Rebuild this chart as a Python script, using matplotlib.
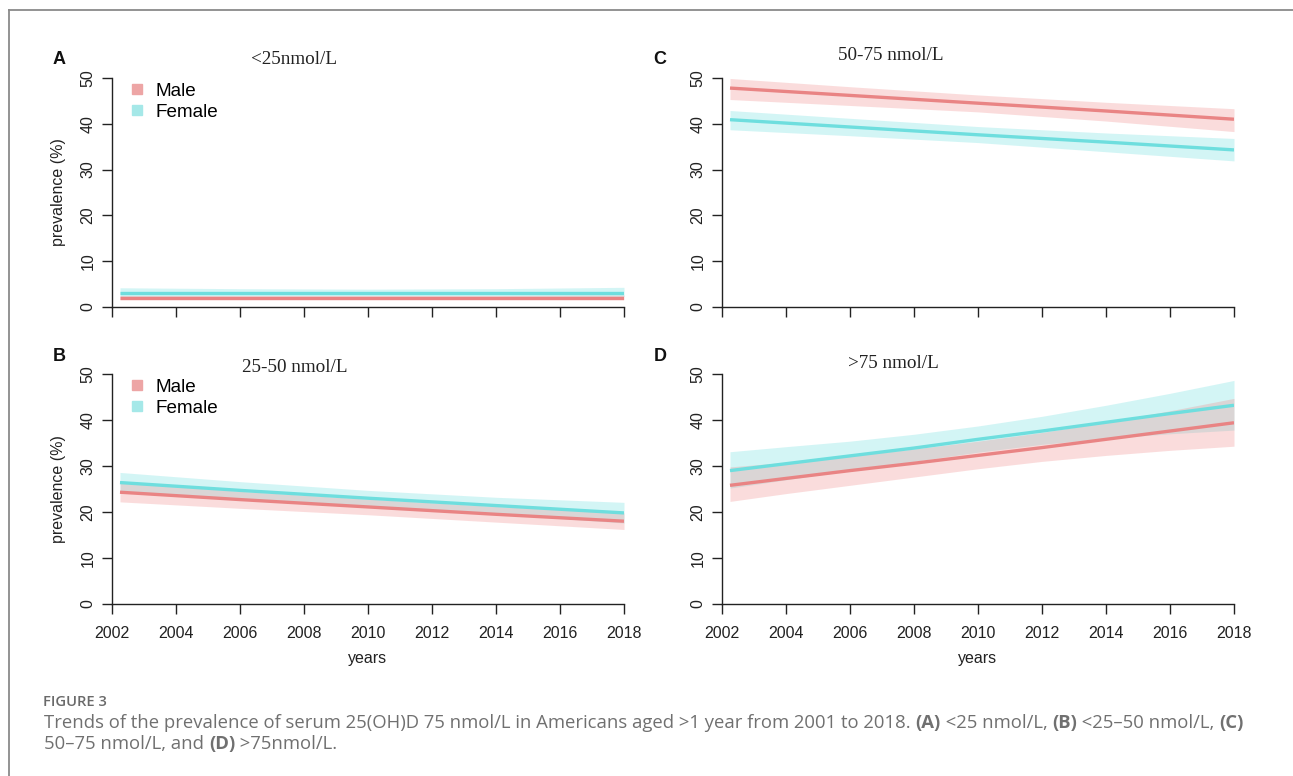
import numpy as np
import matplotlib
matplotlib.use("Agg")
import matplotlib.pyplot as plt
from matplotlib.lines import Line2D

W, H = 1293, 776

yrs = [2002.25, 2006, 2010, 2014, 2018]
yrs_d = [2002.25, 2004, 2006, 2008, 2010, 2012, 2014, 2016, 2018]

# A: <25 nmol/L
a_male = [2.0, 2.0, 2.0, 2.0, 2.0]
a_male_lo = [1.6, 1.6, 1.6, 1.6, 1.6]
a_male_hi = [2.5, 2.5, 2.5, 2.5, 2.6]
a_female = [3.0, 3.0, 3.0, 3.0, 3.0]
a_female_lo = [2.3, 2.4, 2.4, 2.4, 2.3]
a_female_hi = [4.2, 4.0, 3.9, 4.0, 4.3]

# B: 25-50 nmol/L
b_male = [24.3, 22.7, 21.1, 19.5, 18.0]
b_male_lo = [22.2, 20.8, 19.4, 17.8, 16.2]
b_male_hi = [26.4, 24.5, 22.8, 21.2, 19.8]
b_female = [26.4, 24.7, 23.0, 21.4, 19.8]
b_female_lo = [24.3, 22.9, 21.4, 19.6, 17.6]
b_female_hi = [28.6, 26.6, 24.7, 23.2, 22.1]

# C: 50-75 nmol/L
c_male = [47.8, 46.2, 44.5, 42.8, 41.0]
c_male_lo = [45.3, 44.0, 42.6, 40.6, 38.3]
c_male_hi = [49.9, 48.1, 46.3, 44.7, 43.3]
c_female = [40.9, 39.3, 37.6, 36.0, 34.3]
c_female_lo = [38.7, 37.4, 35.9, 33.9, 31.9]
c_female_hi = [42.9, 41.2, 39.4, 38.0, 36.8]

# D: >75 nmol/L
d_male = [25.8, 27.3, 29.0, 30.6, 32.3, 34.0, 35.8, 37.6, 39.4]
d_male_lo = [22.3, 24.0, 25.8, 27.6, 29.4, 31.0, 32.3, 33.4, 34.3]
d_male_hi = [29.8, 30.8, 32.2, 33.7, 35.4, 37.3, 39.5, 42.0, 44.7]
d_female = [29.0, 30.5, 32.2, 33.9, 35.8, 37.6, 39.5, 41.4, 43.2]
d_female_lo = [25.2, 27.0, 29.0, 31.0, 33.0, 34.7, 36.0, 37.0, 37.8]
d_female_hi = [33.1, 34.2, 35.4, 36.9, 38.7, 40.8, 43.2, 45.8, 48.6]

xticks = list(range(2002, 2019, 2))
yticks = [0, 10, 20, 30, 40, 50]

pink = "#E98484"
cyan = "#6EDEDE"
pink_fill = "#F08080"
cyan_fill = "#5EDCDC"

plt.rcParams['font.family'] = ['Liberation Sans', 'DejaVu Sans']


def fx(x):
    return x / W


def fy(y):
    return 1 - y / H


fig = plt.figure(figsize=(W / 100, H / 100), dpi=100)

panels = [
    ("A", "<25nmol/L", 112, 78, 307, yrs, a_male, a_male_lo, a_male_hi,
     a_female, a_female_lo, a_female_hi, True, False, (59, 60), (294, 59)),
    ("C", "50-75 nmol/L", 722, 78, 307, yrs, c_male, c_male_lo, c_male_hi,
     c_female, c_female_lo, c_female_hi, False, False, (660, 60), (891, 56)),
    ("B", "25-50 nmol/L", 112, 374, 604, yrs, b_male, b_male_lo, b_male_hi,
     b_female, b_female_lo, b_female_hi, True, True, (59, 357), (295, 368)),
    ("D", ">75 nmol/L", 722, 374, 604, yrs_d, d_male, d_male_lo, d_male_hi,
     d_female, d_female_lo, d_female_hi, False, True, (660, 357), (893, 364)),
]

for (letter, title, left, top, bottom, xs, m, mlo, mhi, f, flo, fhi,
     ylab, xlab, lpos, tpos) in panels:
    ax = fig.add_axes([fx(left), fy(bottom), 512 / W, (bottom - top) / H])
    ax.fill_between(xs, flo, fhi, color=cyan_fill, alpha=0.27, lw=0)
    ax.fill_between(xs, mlo, mhi, color=pink_fill, alpha=0.27, lw=0)
    ax.plot(xs, f, color=cyan, lw=2.4, solid_capstyle='butt')
    ax.plot(xs, m, color=pink, lw=2.4, solid_capstyle='butt')
    ax.set_xlim(2002, 2018)
    ax.set_ylim(0, 50)
    ax.set_xticks(xticks)
    ax.set_yticks(yticks)
    for s in ['top', 'right']:
        ax.spines[s].set_visible(False)
    for s in ['left', 'bottom']:
        ax.spines[s].set_linewidth(1.0)
        ax.spines[s].set_color('#222222')
    ax.tick_params(direction='out', length=7, width=1.0, color='#222222',
                   labelsize=11.5, labelcolor='#222222')
    ax.tick_params(axis='y', pad=5)
    ax.tick_params(axis='x', pad=9)
    for t in ax.get_yticklabels():
        t.set_rotation(90)
        t.set_va('center')
    if not xlab:
        ax.set_xticklabels([])
    else:
        ax.set_xlabel("years", fontsize=11.5, color='#222222', labelpad=7)
    if ylab:
        ax.set_ylabel("prevalence (%)", fontsize=11.5, color='#222222',
                      labelpad=10)
        h = [Line2D([], [], ls='none', marker='s', ms=7, color='#EDA5A5'),
             Line2D([], [], ls='none', marker='s', ms=7, color='#A5E8E8')]
        ax.legend(h, ["Male", "Female"], loc='upper left',
                  bbox_to_anchor=(-0.003, 1.055), frameon=False,
                  fontsize=13.6, handletextpad=0.5, labelspacing=0.2,
                  handlelength=1.0)
    fig.text(fx(lpos[0]), fy(lpos[1]), letter, fontsize=13, weight='bold',
             ha='center', va='center', color='#111111')
    fig.text(fx(tpos[0]), fy(tpos[1]), title, fontsize=13.8,
             family='Liberation Serif', ha='center', va='center',
             color='#222222')

# figure frame (left and top edges only, the rest runs off the image)
fig.add_artist(Line2D([fx(9), fx(9)], [fy(10), 0], color='#8a8a8a', lw=1.3))
fig.add_artist(Line2D([fx(9), 1], [fy(10), fy(10)], color='#8a8a8a', lw=1.3))

cap_font = ['Open Sans', 'DejaVu Sans']
cap_color = '#707070'
fig.text(fx(43), fy(702), "FIGURE 3", fontsize=10.6, family=cap_font,
         weight='semibold', color='#6a6a6a', va='center')

line1 = [("Trends of the prevalence of serum 25(OH)D 75 nmol/L in Americans "
          "aged >1 year from 2001 to 2018. ", 'normal'),
         ("(A)", 'bold'), (" <25 nmol/L, ", 'normal'),
         ("(B)", 'bold'), (" <25\u201350 nmol/L, ", 'normal'),
         ("(C)", 'bold')]
line2 = [("50\u201375 nmol/L, and ", 'normal'), ("(D)", 'bold'),
         (" >75nmol/L.", 'normal')]

renderer = fig.canvas.get_renderer()


def runs(x0, y0, parts, size):
    x = x0
    for txt, wt in parts:
        t = fig.text(fx(x), fy(y0), txt, fontsize=size, family=cap_font,
                     weight=wt, color=cap_color, va='center')
        x += t.get_window_extent(renderer).width
    return x


runs(44, 723, line1, 13.3)
runs(44, 744, line2, 13.3)

fig.savefig("out.png", dpi=100)
